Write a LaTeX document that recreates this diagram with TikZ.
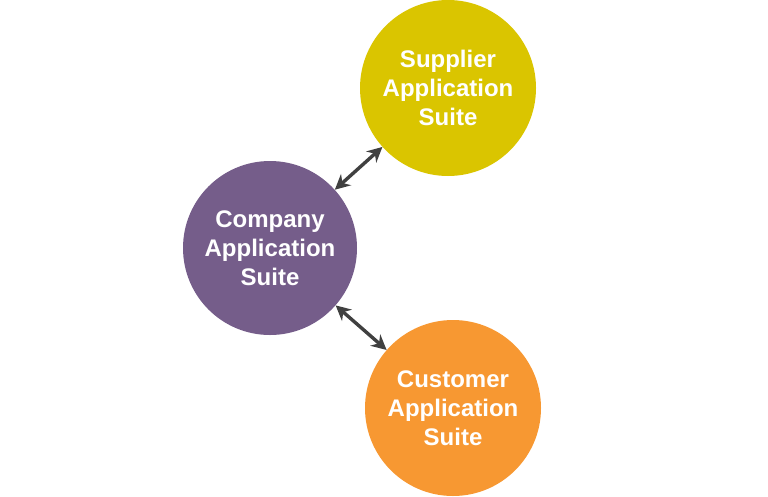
\documentclass[tikz,border=0pt]{standalone}
\usepackage{fontspec}
\setmainfont{Liberation Sans}
\usetikzlibrary{arrows.meta}
\usetikzlibrary{positioning}
\definecolor{supyellow}{HTML}{DAC500}
\definecolor{compurple}{HTML}{755D8A}
\definecolor{cusorange}{HTML}{F79832}
\definecolor{arrowgray}{HTML}{404040}
\tikzset{
  suite/.style={circle,minimum size=176pt,inner sep=0pt,text=white,align=center,
    font=\fontsize{24}{29}\selectfont\bfseries},
  link/.style={color=arrowgray,line width=3.4pt,
    {Stealth[length=15pt,width=15pt]}-{Stealth[length=15pt,width=15pt]}}
}
\begin{document}
\begin{tikzpicture}[line cap=round,line join=round,x=1pt,y=-1pt]
\useasboundingbox (0,0) rectangle (768,496);
\node[suite,fill=supyellow] (sup) at (448,88) {Supplier\\Application\\Suite};
\node[suite,fill=compurple,minimum size=174pt] (comp) at (270,248) {Company\\Application\\Suite};
\node[suite,fill=cusorange] (cus) at (453,408) {Customer\\Application\\Suite};
\draw[link] (comp) -- (sup);
\draw[link] (comp) -- (cus);
\end{tikzpicture}
\end{document}
